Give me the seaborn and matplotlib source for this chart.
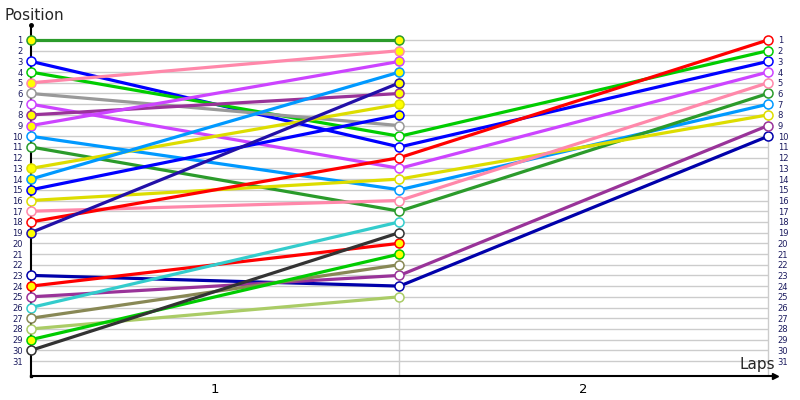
import numpy as np
import pandas as pd
import matplotlib
matplotlib.use("Agg")
import matplotlib.pyplot as plt
import seaborn as sns

# positions per driver: start grid, after lap 1, after lap 2 (None = not classified)
start_pos = [1, 3, 4, 5, 6, 7, 8, 9, 10, 11, 13, 14, 15, 16, 17, 18, 19, 23, 24, 25, 26, 27, 28, 29, 30]
lap1_pos = [1, 11, 10, 2, 9, 13, 6, 3, 15, 17, 7, 4, 8, 14, 16, 12, 5, 24, 20, 23, 18, 22, 25, 21, 19]
lap2_pos = [None, 3, 2, None, None, 4, None, None, 7, 6, None, None, None, 8, 5, 1, None, 10, None, 9,
            None, None, None, None, None]
line_colors = ["#2b9b2b", "#0000ff", "#00cc00", "#ff88aa", "#999999", "#cc44ff", "#993399", "#cc44ff",
               "#0099ff", "#2b9b2b", "#dddd00", "#0099ff", "#0000ff", "#dddd00", "#ff88aa", "#ff0000",
               "#2210a8", "#0000aa", "#ff0000", "#993399", "#33cccc", "#888855", "#aacc66", "#00cc00",
               "#333333"]
filled = [True, False, False, True, False, False, True, True, False, False, True, True, True, False,
          False, False, True, False, True, False, False, False, False, True, False]

lap_labels = ["1", "2"]
positions = list(range(1, 32))

rows = []
for i, s in enumerate(start_pos):
    for lap, p in zip([0, 1, 2], [s, lap1_pos[i], lap2_pos[i]]):
        if p is not None:
            rows.append({"driver": i, "lap": lap, "pos": p})
df = pd.DataFrame(rows)

sns.set_theme(style="white")
plt.rcParams["font.family"] = ["DejaVu Sans"]

fig = plt.figure(figsize=(8, 4), dpi=100)
ax = fig.add_axes([31 / 800, 24 / 400, 744 / 800, 351 / 400])

# grid
ax.hlines(positions, 0, 2, color="#cccccc", lw=1, zorder=0)
ax.vlines([1, 2], 1, 33, color="#cccccc", lw=1, zorder=0)

for i in range(len(start_pos)):
    d = df[df["driver"] == i]
    c = line_colors[i]
    sns.lineplot(data=d, x="lap", y="pos", ax=ax, color=c, lw=2.3, marker="o", markersize=6.5,
                 markerfacecolor="#ffff00" if filled[i] else "white", markeredgecolor=c,
                 markeredgewidth=1.1, clip_on=False, zorder=3, legend=False)

ax.set_xlim(0, 2.019)
ax.set_ylim(32.4, -0.4)
ax.set_xlabel("")
ax.set_ylabel("")

for side in ["top", "right"]:
    ax.spines[side].set_visible(False)
for side in ["left", "bottom"]:
    ax.spines[side].set_color("black")
    ax.spines[side].set_linewidth(1.5)

ax.set_yticks(positions)
ax.set_yticklabels([str(p) for p in positions], fontsize=6, color="#1a1a5e")
ax.tick_params(axis="y", length=0, pad=6)
ax.set_xticks([0.5, 1.5])
ax.set_xticklabels(lap_labels, fontsize=9.5, color="black")
ax.tick_params(axis="x", length=0, pad=5)

ax2 = ax.twinx()
ax2.set_ylim(ax.get_ylim())
ax2.set_yticks(positions)
ax2.set_yticklabels([str(p) for p in positions], fontsize=6, color="#1a1a5e")
ax2.tick_params(axis="y", length=0, pad=2)
for side in ax2.spines:
    ax2.spines[side].set_visible(False)

# axis arrow heads
ax.plot(1, 0, ">", color="black", ms=5, transform=ax.transAxes, clip_on=False)
ax.plot(0, 1, "o", color="black", ms=2.5, transform=ax.transAxes, clip_on=False)
ax.plot(0, 0, "s", color="black", ms=2, transform=ax.transAxes, clip_on=False)

fig.text(5 / 800, 1 - 15 / 400, "Position", ha="left", va="center", fontsize=11)
fig.text(775 / 800, 1 - 364 / 400, "Laps", ha="right", va="center", fontsize=11)

fig.savefig("out.png", dpi=100)
